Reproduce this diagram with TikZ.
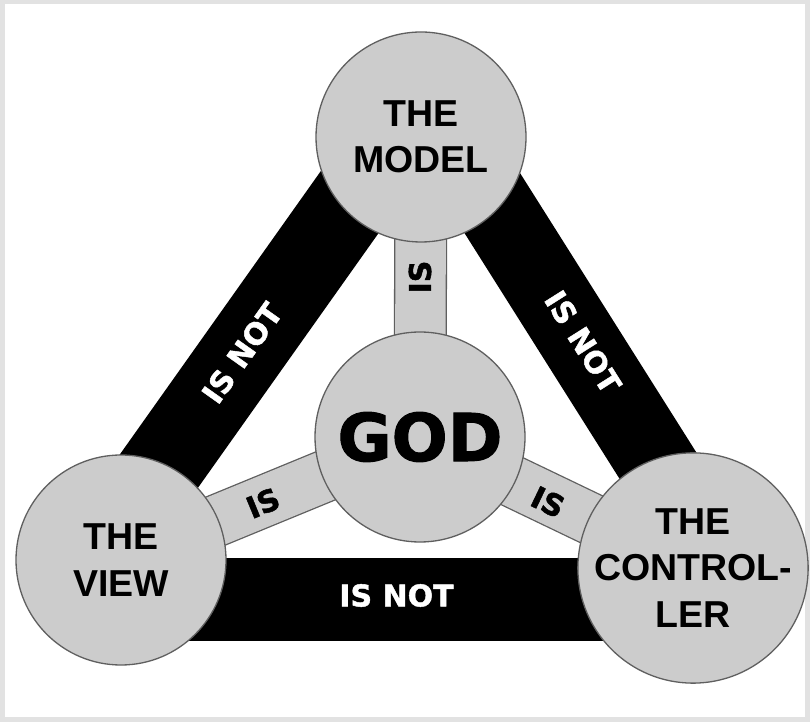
\documentclass[tikz,border=0pt]{standalone}
\usepackage{fontspec}
\setmainfont{Liberation Sans}
\newfontfamily\heavyfont[FakeBold=1.5]{DejaVu Sans Bold}
\usetikzlibrary{calc}
\definecolor{discgray}{RGB}{204,204,204}
\definecolor{edgegray}{RGB}{95,95,95}
\definecolor{shadowgray}{RGB}{226,226,226}
\pgfdeclarelayer{frame}
\pgfdeclarelayer{bars}
\pgfsetlayers{frame,bars,main}
\begin{document}
\begin{tikzpicture}[x=1pt,y=1pt,
  disc/.style={circle, minimum size=210pt, inner sep=0pt, fill=discgray, draw=edgegray,
    line width=1.3pt, align=center, text=black,
    font=\bfseries\fontsize{37.5}{46.5}\selectfont},
  notbar/.style={line width=#1, black},
  isedge/.style={line width=53pt, edgegray},
  isfill/.style={line width=50.4pt, discgray},
  isnot/.style={inner sep=0pt, text=white, font=\heavyfont\fontsize{30}{30}\selectfont},
  islab/.style={inner sep=0pt, text=black, font=\heavyfont\fontsize{30}{30}\selectfont},
  godtext/.style={font=\heavyfont\fontsize{66}{66}\selectfont}
]
\begin{pgfonlayer}{frame}
  \fill[shadowgray] (0,0) rectangle (810,722);
  \fill[white] (5,5) rectangle (805,718);
\end{pgfonlayer}
\useasboundingbox (0,0) rectangle (810,722);

\node[disc] (M) at (421,585) {THE\\MODEL};
\node[disc, godtext] (G) at (420,285) {GOD};
\node[disc] (V) at (121,162) {THE\\VIEW};
\node[disc] (C) at (693,154) {THE\\CONTROL-\\LER};

\begin{pgfonlayer}{bars}
  \draw[notbar=83pt] ($(V.center)!20.5pt!90:(M.center)$) -- ($(M.center)!20.5pt!-90:(V.center)$);
  \draw[notbar=79pt] ($(M.center)!25pt!90:(C.center)$) -- ($(C.center)!25pt!-90:(M.center)$);
  \draw[notbar=83pt] ($(V.center)+(0,-39.5)$) -- ($(C.center)+(0,-31.5)$);
  \draw[isedge] (G.center) -- (M.center);
  \draw[isedge] (G.center) -- (V.center);
  \draw[isedge] (G.center) -- (C.center);
  \draw[isfill] (G.center) -- (M.center);
  \draw[isfill] (G.center) -- (V.center);
  \draw[isfill] (G.center) -- (C.center);
\end{pgfonlayer}

\node[isnot, rotate=54.65] (notVM) at (242,369) {IS NOT};
\node[isnot, rotate=-57.7] (notMC) at (583,380) {IS NOT};
\node[isnot] (notVC) at (396.5,126.5) {IS NOT};
\node[islab, rotate=90] (isM) at (420,445) {IS};
\node[islab, rotate=22.4] (isV) at (263,219) {IS};
\node[islab, rotate=-25.6] (isC) at (548,220) {IS};
\end{tikzpicture}
\end{document}
